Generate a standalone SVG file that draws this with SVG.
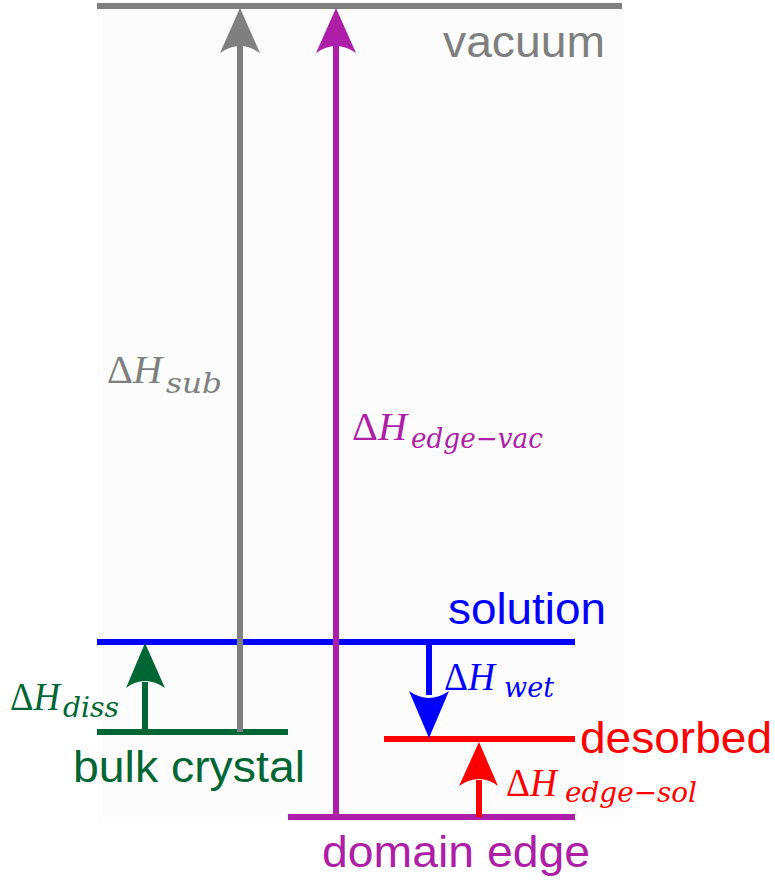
<svg xmlns="http://www.w3.org/2000/svg" width="775" height="884" viewBox="0 0 775 884">
<style>
.lbl{font-family:"Liberation Sans",Arial,sans-serif;font-size:45px}
.m{font-family:"Liberation Serif","DejaVu Serif",serif;font-size:39px}
.it{font-style:italic}
.s{font-family:"DejaVu Serif","Liberation Serif",serif;font-size:28px;font-style:italic}
</style>
<rect width="775" height="884" fill="#ffffff"/>
<rect x="97" y="0" width="527" height="822" fill="#fcfcfc"/>
<g id="vacuum">
<line x1="97" y1="6" x2="622" y2="6" stroke="#7f7f7f" stroke-width="6"/>
<text class="lbl" x="443" y="57" fill="#7f7f7f" textLength="162" lengthAdjust="spacingAndGlyphs">vacuum</text>
</g>
<g id="solution">
<line x1="97" y1="642" x2="575" y2="642" stroke="#0000ff" stroke-width="6"/>
<text class="lbl" x="448" y="624" fill="#0000ff" textLength="158" lengthAdjust="spacingAndGlyphs">solution</text>
</g>
<g id="bulk-crystal">
<line x1="97" y1="732" x2="288" y2="732" stroke="#006633" stroke-width="6"/>
<text class="lbl" x="73" y="782" fill="#006633" textLength="232" lengthAdjust="spacingAndGlyphs">bulk crystal</text>
</g>
<g id="desorbed">
<line x1="384" y1="739" x2="575" y2="739" stroke="#ff0000" stroke-width="6"/>
<text class="lbl" x="580" y="753" fill="#ff0000" textLength="192" lengthAdjust="spacingAndGlyphs">desorbed</text>
</g>
<g id="domain-edge">
<line x1="288" y1="817" x2="575" y2="817" stroke="#ad1fa6" stroke-width="6"/>
<text class="lbl" x="322" y="867" fill="#ad1fa6" textLength="268" lengthAdjust="spacingAndGlyphs">domain edge</text>
</g>
<g id="connectors">
<g id="sub-arrow">
<line x1="240" y1="45" x2="240" y2="732" stroke="#7f7f7f" stroke-width="6"/>
<path d="M240 8 L260 53 Q250 46 240 46 Q230 46 220 53 Z" fill="#7f7f7f"/>
<text class="m" fill="#7f7f7f"><tspan x="107" y="383" textLength="55" lengthAdjust="spacingAndGlyphs">Δ<tspan class="it">H</tspan></tspan><tspan class="s" x="166" y="393" textLength="56" lengthAdjust="spacingAndGlyphs">sub</tspan></text>
</g>
<g id="edge-vac-arrow">
<line x1="336" y1="45" x2="336" y2="817" stroke="#ad1fa6" stroke-width="6"/>
<path d="M336 8 L356 53 Q346 46 336 46 Q326 46 316 53 Z" fill="#ad1fa6"/>
<text class="m" fill="#ad1fa6"><tspan x="352" y="440" textLength="55" lengthAdjust="spacingAndGlyphs">Δ<tspan class="it">H</tspan></tspan><tspan class="s" x="411" y="448" textLength="132" lengthAdjust="spacingAndGlyphs">edge−vac</tspan></text>
</g>
<g id="diss-arrow">
<line x1="145" y1="682" x2="145" y2="732" stroke="#006633" stroke-width="6"/>
<path d="M145 643 L165 688 Q155 681 145 681 Q135 681 126 688 Z" fill="#006633"/>
<text class="m" fill="#006633"><tspan x="10" y="710" textLength="50" lengthAdjust="spacingAndGlyphs">Δ<tspan class="it">H</tspan></tspan><tspan class="s" x="63" y="717" textLength="56" lengthAdjust="spacingAndGlyphs">diss</tspan></text>
</g>
<g id="wet-arrow">
<line x1="429" y1="642" x2="429" y2="695" stroke="#0000ff" stroke-width="6"/>
<path d="M429 738 L449 691 Q439 698 429 698 Q419 698 409 691 Z" fill="#0000ff"/>
<text class="m" fill="#0000ff"><tspan x="444" y="690" textLength="51" lengthAdjust="spacingAndGlyphs">Δ<tspan class="it">H</tspan></tspan><tspan class="s" x="504" y="697" textLength="50" lengthAdjust="spacingAndGlyphs">wet</tspan></text>
</g>
<g id="edge-sol-arrow">
<line x1="479" y1="780" x2="479" y2="817" stroke="#ff0000" stroke-width="6"/>
<path d="M479 742 L498 786 Q489 779 479 779 Q469 779 459 786 Z" fill="#ff0000"/>
<text class="m" fill="#ff0000"><tspan x="506" y="796" textLength="51" lengthAdjust="spacingAndGlyphs">Δ<tspan class="it">H</tspan></tspan><tspan class="s" x="565" y="802" textLength="132" lengthAdjust="spacingAndGlyphs">edge−sol</tspan></text>
</g>
</g>
</svg>
